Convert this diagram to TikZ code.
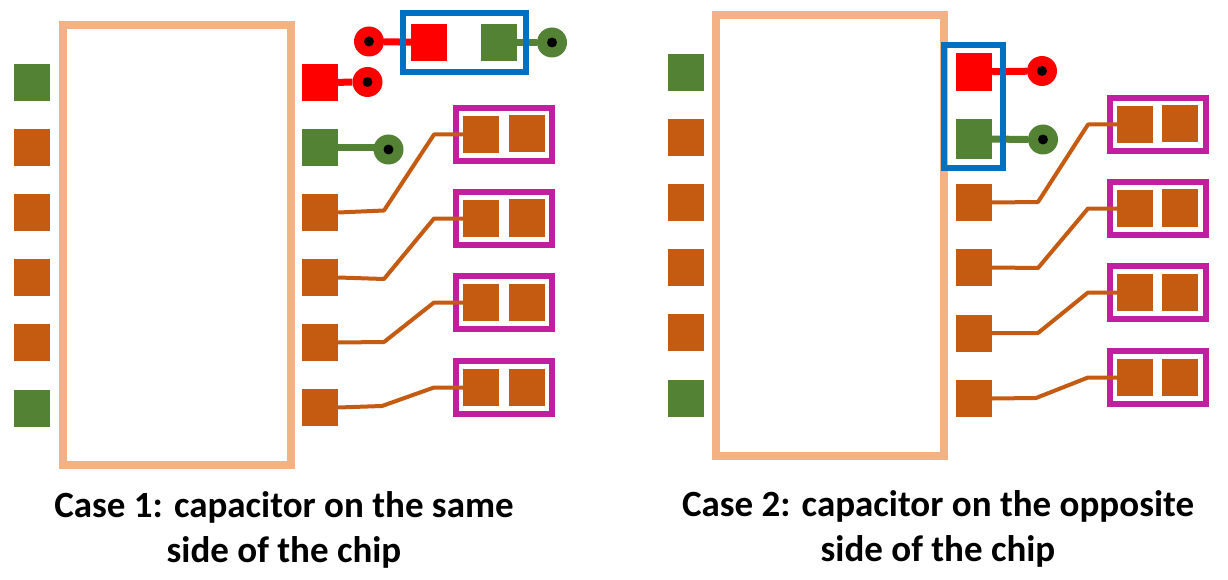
\documentclass[tikz,border=0pt]{standalone}
\usepackage{fontspec}
\setmainfont{Carlito}
\definecolor{padgreen}{RGB}{84,130,53}
\definecolor{padbrown}{RGB}{197,90,17}
\definecolor{chipc}{RGB}{244,177,131}
\definecolor{capblue}{RGB}{0,112,192}
\definecolor{capmag}{RGB}{192,32,160}
\tikzset{
 pad/.style={draw=none,inner sep=0,minimum width=36,minimum height=37,rectangle},
 rpad/.style={pad,fill=red},
 gpad/.style={pad,fill=padgreen},
 bpad/.style={pad,fill=padbrown},
 chip/.style={draw=chipc,line width=8,inner sep=0,rectangle},
 bluebox/.style={draw=capblue,line width=6,inner sep=0,rectangle},
 magbox/.style={draw=capmag,line width=6,inner sep=0,rectangle,minimum width=96,minimum height=53},
 via/.style={circle,inner sep=0,minimum size=30,draw=none},
 hole/.style={circle,fill=black,inner sep=0,minimum size=10,draw=none},
 rtrace/.style={draw=red,line width=7},
 gtrace/.style={draw=padgreen,line width=7},
 btrace/.style={draw=padbrown,line width=4,line join=round},
 captext/.style={font=\bfseries\fontsize{37}{45}\selectfont,align=center,inner sep=0,text=black}
}
\begin{document}
\begin{tikzpicture}[x=1pt,y=-1pt]
\useasboundingbox (0,0) rectangle (1228,580);
\fill[white] (0,0) rectangle (1228,580);
% ---------- Case 1
\node[chip,minimum width=228,minimum height=439] (chipA) at (176.5,245) {};
\foreach \n/\y/\s in {1/82.5/gpad,2/147.5/bpad,3/212.5/bpad,4/277.5/bpad,5/342.5/bpad,6/408/gpad}
  \node[\s] (AL\n) at (32,\y) {};
\node[rpad] (AR1) at (320,82.5) {};
\node[gpad] (AR2) at (320,147.5) {};
\foreach \n/\y in {3/212.5,4/277.5,5/342.5,6/407.5}
  \node[bpad] (AR\n) at (320,\y) {};
\node[via,fill=red] (AV1) at (367.5,82) {};
\node[via,fill=padgreen] (AV2) at (388.5,149.5) {};
\draw[rtrace] (AR1) -- (AV1);
\draw[gtrace] (AR2) -- (AR2 -| AV2);
\node[hole] at (AV1) {};
\node[hole] at (AV2) {};
% top capacitor
\node[rpad] (AC1) at (429,42.5) {};
\node[gpad] (AC2) at (499,42.5) {};
\node[via,fill=red] (AV3) at (369,41.5) {};
\node[via,fill=padgreen] (AV4) at (552,42.5) {};
\draw[rtrace] (AV3) -- (AC1);
\draw[gtrace] (AC2) -- (AV4);
\node[bluebox,minimum width=123,minimum height=59] (ABlue) at (464.5,42.5) {};
\node[hole] at (AV3) {};
\node[hole] at (AV4) {};
% decoupling caps
\foreach \n/\y in {1/134.5,2/218.5,3/302.5,4/387.5}{
  \node[magbox] (AM\n) at (504,\y) {};
  \node[bpad] (AP\n) at (481,\y) {};
  \node[bpad] (AQ\n) at (527,\y-0.5) {};
}
\coordinate (Ab1) at (384,210.5); \coordinate (Ac1) at (434,134.5);
\coordinate (Ab2) at (384,279);   \coordinate (Ac2) at (434,218.5);
\coordinate (Ab3) at (384,342);   \coordinate (Ac3) at (434,302.5);
\coordinate (Ab4) at (382,406);   \coordinate (Ac4) at (434,387.5);
\draw[btrace] (AR3.east) -- (Ab1) -- (Ac1) -- (AP1.west);
\draw[btrace] (AR4.east) -- (Ab2) -- (Ac2) -- (AP2.west);
\draw[btrace] (AR5.east) -- (Ab3) -- (Ac3) -- (AP3.west);
\draw[btrace] (AR6.east) -- (Ab4) -- (Ac4) -- (AP4.west);
\node[captext] (capA) at (284,530) {Case 1: capacitor on the same\\side of the chip};
% ---------- Case 2
\node[chip,minimum width=228,minimum height=440] (chipB) at (829.5,235.5) {};
\foreach \n/\y/\s in {1/72.5/gpad,2/137.5/bpad,3/202.5/bpad,4/267.5/bpad,5/332.5/bpad,6/398.5/gpad}
  \node[\s] (BL\n) at (686,\y) {};
\node[rpad,minimum height=38] (BR1) at (974,72) {};
\node[gpad,minimum height=40] (BR2) at (974,139) {};
\foreach \n/\y in {3/202.5,4/267.5,5/333,6/398.5}
  \node[bpad] (BR\n) at (974,\y) {};
\node[via,fill=red] (BV1) at (1042,71) {};
\node[via,fill=padgreen] (BV2) at (1043,139.5) {};
\draw[rtrace] (BR1) -- (BV1);
\draw[gtrace] (BR2) -- (BV2);
\node[hole] at (BV1) {};
\node[hole] at (BV2) {};
\node[bluebox,minimum width=59,minimum height=123] (BBlue) at (973.5,106.5) {};
\foreach \n/\y in {1/124.5,2/208.5,3/292.5,4/377.5}{
  \node[magbox] (BM\n) at (1158,\y) {};
  \node[bpad] (BP\n) at (1135,\y) {};
  \node[bpad] (BQ\n) at (1180,\y-0.5) {};
}
\coordinate (Bb1) at (1038,202);  \coordinate (Bc1) at (1088,124.5);
\coordinate (Bb2) at (1038,268);  \coordinate (Bc2) at (1088,208.5);
\coordinate (Bb3) at (1038,333);  \coordinate (Bc3) at (1088,292.5);
\coordinate (Bb4) at (1036,398);  \coordinate (Bc4) at (1088,377.5);
\draw[btrace] (BR3.east) -- (Bb1) -- (Bc1) -- (BP1.west);
\draw[btrace] (BR4.east) -- (Bb2) -- (Bc2) -- (BP2.west);
\draw[btrace] (BR5.east) -- (Bb3) -- (Bc3) -- (BP3.west);
\draw[btrace] (BR6.east) -- (Bb4) -- (Bc4) -- (BP4.west);
\node[captext] (capB) at (938,528.5) {Case 2: capacitor on the opposite\\side of the chip};
\end{tikzpicture}
\end{document}
